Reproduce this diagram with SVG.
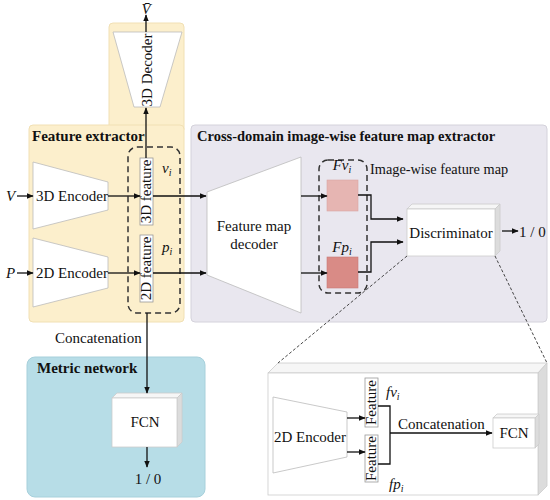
<svg xmlns="http://www.w3.org/2000/svg" width="550" height="500" viewBox="0 0 550 500">
<defs>
<marker id="ah" viewBox="0 0 10 10" refX="9" refY="5" markerWidth="7" markerHeight="7" markerUnits="userSpaceOnUse" orient="auto">
<path d="M0,1 L10,5 L0,9 Z" fill="#111"/>
</marker>
<style>
text{font-family:'Liberation Serif','DejaVu Serif',serif;font-size:15px;fill:#111}
.b{font-weight:bold}
.i{font-style:italic}
.c{text-anchor:middle}
.sub{font-size:10px}
.yel{fill:#FCEFCC;stroke:#F1E0B4;stroke-width:1}
.gry{fill:#E9E7EF;stroke:#D4D2DB;stroke-width:1}
.blu{fill:#B7DDE7;stroke:#A7D0DB;stroke-width:1}
.trap{fill:#fff;stroke:#bbb;stroke-width:0.8}
.fbox{fill:#fff;stroke:#999;stroke-width:0.8}
.dash{fill:none;stroke:#333;stroke-width:1.5;stroke-dasharray:6 4}
.ln{fill:none;stroke:#111;stroke-width:1.3}
.ar{fill:none;stroke:#111;stroke-width:1.3;marker-end:url(#ah)}
.front{fill:#fff;stroke:#ccc;stroke-width:0.8}
.top{fill:#f6f6f6;stroke:#ccc;stroke-width:0.8}
.side{fill:#dcdcdc;stroke:#ccc;stroke-width:0.8}
.zoom{fill:none;stroke:#333;stroke-width:0.9;stroke-dasharray:3 2}
</style>
</defs>

<g id="panels">
<rect class="yel" x="109" y="23" width="75" height="110" rx="4"/>
<rect class="yel" x="29" y="125" width="155" height="197" rx="4"/>
<rect class="gry" x="191" y="125" width="356" height="197" rx="4"/>
<rect class="blu" x="27" y="357" width="178" height="140" rx="8"/>
<text class="b" x="32" y="141">Feature extractor</text>
<text class="b" x="197" y="141" style="font-size:14.5px">Cross-domain image-wise feature map extractor</text>
<text class="b" x="37" y="373">Metric network</text>
</g>

<g id="decoder3d">
<polygon class="trap" points="113,32 182,32 160,107 134,107"/>
<text class="c" transform="translate(152,70) rotate(-90)">3D Decoder</text>
</g>

<g id="encoder3d">
<polygon class="trap" points="33,162 108,182 108,210 33,229"/>
<text class="c" x="72" y="201">3D Encoder</text>
</g>

<g id="encoder2d">
<polygon class="trap" points="33,238 108,257 108,288 33,307"/>
<text class="c" x="72" y="278">2D Encoder</text>
</g>

<g id="features">
<rect class="dash" x="128" y="147" width="52" height="166" rx="9"/>
<rect class="fbox" x="140" y="158" width="13" height="67"/>
<text class="c" transform="translate(151,191.5) rotate(-90)">3D feature</text>
<rect class="fbox" x="140" y="235" width="13" height="67"/>
<text class="c" transform="translate(151,268.5) rotate(-90)">2D feature</text>
<text class="i" x="162" y="173">v<tspan class="sub" dy="3">i</tspan></text>
<text class="i" x="162" y="252">p<tspan class="sub" dy="3">i</tspan></text>
</g>

<g id="fmdecoder">
<polygon class="trap" points="207,192 301,157 301,313 207,275"/>
<text class="c" x="254" y="231">Feature map</text>
<text class="c" x="254" y="249">decoder</text>
</g>

<g id="featuremaps">
<rect class="dash" x="319" y="160" width="48" height="133" rx="9"/>
<rect x="327" y="180" width="31" height="31" fill="#E6B5B2" stroke="#d9a5a2" stroke-width="0.6"/>
<rect x="327" y="257" width="31" height="31" fill="#D98B86" stroke="#c97a76" stroke-width="0.6"/>
<text class="i c" x="342" y="170">Fv<tspan class="sub" dy="3">i</tspan></text>
<text class="i c" x="342" y="252">Fp<tspan class="sub" dy="3">i</tspan></text>
<text x="370" y="174" style="font-size:14.3px">Image-wise feature map</text>
</g>

<g id="discriminator">
<polygon class="top" points="407,209 412,204 500,204 495,209"/>
<polygon class="side" points="495,209 500,204 500,251 495,256"/>
<rect class="front" x="407" y="209" width="88" height="47"/>
<text class="c" x="451" y="238">Discriminator</text>
<text x="519" y="237">1 / 0</text>
</g>

<g id="metricfcn">
<polygon class="top" points="112,398 117,393 182,393 177,398"/>
<polygon class="side" points="177,398 182,393 182,442 177,447"/>
<rect class="front" x="112" y="398" width="65" height="49"/>
<text class="c" x="145" y="427">FCN</text>
<text class="c" x="148" y="484">1 / 0</text>
<text x="55" y="343">Concatenation</text>
</g>

<g id="detail">
<polygon class="top" points="268,373 278,363 547,363 538,373"/>
<polygon class="side" points="538,373 547,363 547,486 538,495"/>
<rect class="front" x="268" y="373" width="270" height="122"/>
<polygon class="trap" points="273,397 347,412 347,457 273,473"/>
<text class="c" x="310" y="442">2D Encoder</text>
<rect class="fbox" x="365" y="378" width="13" height="49"/>
<text class="c" transform="translate(376,402.5) rotate(-90)">Feature</text>
<rect class="fbox" x="365" y="435" width="13" height="47"/>
<text class="c" transform="translate(376,458.5) rotate(-90)">Feature</text>
<text class="i" x="386" y="397">fv<tspan class="sub" dy="3">i</tspan></text>
<text class="i" x="389" y="489">fp<tspan class="sub" dy="3">i</tspan></text>
<text x="398" y="429">Concatenation</text>
<polygon class="top" points="493,418 497,414 539,414 535,418"/>
<polygon class="side" points="535,418 539,414 539,444 535,448"/>
<rect class="front" x="493" y="418" width="42" height="30"/>
<text class="c" x="514" y="438">FCN</text>
</g>

<g id="connectors">
<text class="i c" x="146" y="14">V&#x304;</text>
<line class="ar" x1="146" y1="32" x2="146" y2="15"/>
<line class="ar" x1="146" y1="158" x2="146" y2="108"/>
<text class="i" x="6" y="201">V</text>
<text class="i" x="6" y="278">P</text>
<line class="ar" x1="17" y1="196" x2="33" y2="196"/>
<line class="ar" x1="17" y1="273" x2="33" y2="273"/>
<line class="ar" x1="108" y1="196" x2="140" y2="196"/>
<line class="ar" x1="108" y1="273" x2="140" y2="273"/>
<line class="ar" x1="153" y1="196" x2="206" y2="196"/>
<line class="ar" x1="153" y1="273" x2="206" y2="273"/>
<line class="ar" x1="301" y1="196" x2="327" y2="196"/>
<line class="ar" x1="301" y1="273" x2="327" y2="273"/>
<polyline class="ar" points="358,195 371,195 371,219 403,219"/>
<polyline class="ar" points="358,272 371,272 371,242 403,242"/>
<line class="ar" x1="502" y1="231" x2="518" y2="231"/>
<line class="ar" x1="147" y1="313" x2="147" y2="393"/>
<line class="ar" x1="147" y1="447" x2="147" y2="467"/>
<line class="zoom" x1="407" y1="256" x2="278" y2="363"/>
<line class="zoom" x1="495" y1="256" x2="547" y2="363"/>
<line class="ar" x1="347" y1="418" x2="365" y2="418"/>
<line class="ar" x1="347" y1="452" x2="365" y2="452"/>
<polyline class="ln" points="378,406 390,406 390,464 378,464"/>
<line class="ar" x1="390" y1="433" x2="492" y2="433"/>
</g>
</svg>
